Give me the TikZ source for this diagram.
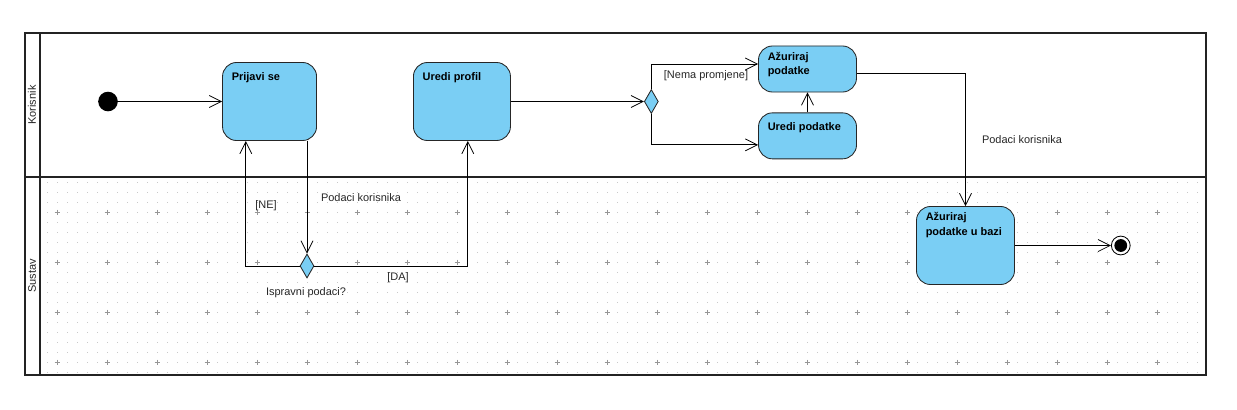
\documentclass[tikz,border=0pt]{standalone}
\usepackage{fontspec}
\setmainfont{Liberation Sans}
\usetikzlibrary{positioning,arrows.meta,shapes.geometric,calc}
\definecolor{actblue}{RGB}{122,206,244}
\definecolor{framegray}{RGB}{35,35,35}
\definecolor{gridgray}{RGB}{200,200,200}
\definecolor{plusgray}{RGB}{150,150,150}
\tikzset{
  acttext/.style={anchor=north west, inner sep=0pt, align=left, text=black,
    font=\bfseries\fontsize{7.8}{10}\selectfont, execute at begin node={\rule{0pt}{8pt}}},
  act/.style={rectangle, rounded corners=0.35cm, draw=black!85, fill=actblue, line width=0.6pt,
    minimum width=2.45cm, minimum height=1.95cm, inner sep=0pt,
    label={[acttext, xshift=0.235cm, yshift=-0.16cm]north west:#1}},
  actsmall/.style={act=#1, minimum height=1.15cm},
  decision/.style={diamond, aspect=0.58, draw=black!85, fill=actblue, line width=0.6pt,
    minimum width=0.35cm, minimum height=0.6cm, inner sep=0pt},
  startnode/.style={circle, fill=black, minimum size=0.49cm, inner sep=0pt},
  endnode/.style={circle, draw=black, fill=white, line width=0.6pt, minimum size=0.47cm, inner sep=0pt,
    path picture={\fill[black] (path picture bounding box.center) circle (0.16cm);}},
  connect/.style={-{Straight Barb[length=0.3cm,width=0.3cm]}, line width=0.55pt},
  lbl/.style={font=\fontsize{7.8}{9.5}\selectfont, text=black!85, inner sep=0pt},
  lane/.style={line width=1.2pt, draw=framegray}
}
\begin{document}
\begin{tikzpicture}[x=0.025cm, y=-0.025cm]
  \useasboundingbox (0,0) rectangle (1237,409);

  % grid of the Sustav lane
  \foreach \gx in {47,57,...,1197}
    \foreach \gy in {182,192,...,372}
      \fill[gridgray] (\gx-0.45,\gy-0.45) rectangle (\gx+0.45,\gy+0.45);
  \foreach \px in {57,107,...,1157}
    \foreach \py in {212,262,312,362}
      \draw[plusgray, line width=0.35pt] (\px-2.5,\py) -- (\px+2.5,\py) (\px,\py-2.5) -- (\px,\py+2.5);

  % swimlanes
  \draw[lane] (25,33) rectangle (1206,375);
  \draw[lane] (40,33) -- (40,375);
  \draw[lane] (25,177) -- (1206,177);
  \node[lbl, rotate=90] (korisnik) at (32,105) {Korisnik};
  \node[lbl, rotate=90] (sustav) at (32,276) {Sustav};

  % nodes
  \node[startnode] (start) at (108,101.5) {};
  \node[act=Prijavi se, minimum width=2.35cm] (prijavi) [right=2.6cm of start] {};
  \node[act=Uredi profil, minimum width=2.425cm] (profil) [right=2.4cm of prijavi] {};
  \node[decision] (dec1) [right=3.325cm of profil] {};
  \node[actsmall={Ažuriraj\\podatke}] (azur) at (807.5,69) {};
  \node[actsmall=Uredi podatke] (uredipod) [below=0.5cm of azur] {};
  \node[decision] (dec2) at (307,266) {};
  \node[act={Ažuriraj\\podatke u bazi}] (bazi) at (965.5,245.5) {};
  \node[endnode] (end) [right=2.4cm of bazi] {};

  % labels
  \node[lbl] (ne) at (266,206) {[NE]};
  \node[lbl] (podaci1) at (361,198) {Podaci korisnika};
  \node[lbl] (da) at (398,278) {[DA]};
  \node[lbl] (ispravni) at (306,293) {Ispravni podaci?};
  \node[lbl] (nema) at (706,76) {[Nema promjene]};
  \node[lbl] (podaci2) at (1022,140) {Podaci korisnika};

  % flows
  \draw[connect] (start) -- (prijavi);
  \draw[connect] (prijavi.south -| dec2.north) -- (dec2.north);
  \draw[connect] (dec2.west) -| ($(prijavi.south west)!0.25!(prijavi.south east)$);
  \draw[connect] (dec2.east) -| ($(profil.south west)!0.56!(profil.south east)$);
  \draw[connect] (profil) -- (dec1);
  \draw[connect] (dec1.north) |- ([yshift=0.125cm]azur.west);
  \draw[connect] (dec1.south) |- ([yshift=-0.225cm]uredipod.west);
  \draw[connect] (uredipod) -- (azur);
  \draw[connect] ([yshift=-0.1cm]azur.east) -| (bazi.north);
  \draw[connect] (bazi) -- (end);
\end{tikzpicture}
\end{document}
